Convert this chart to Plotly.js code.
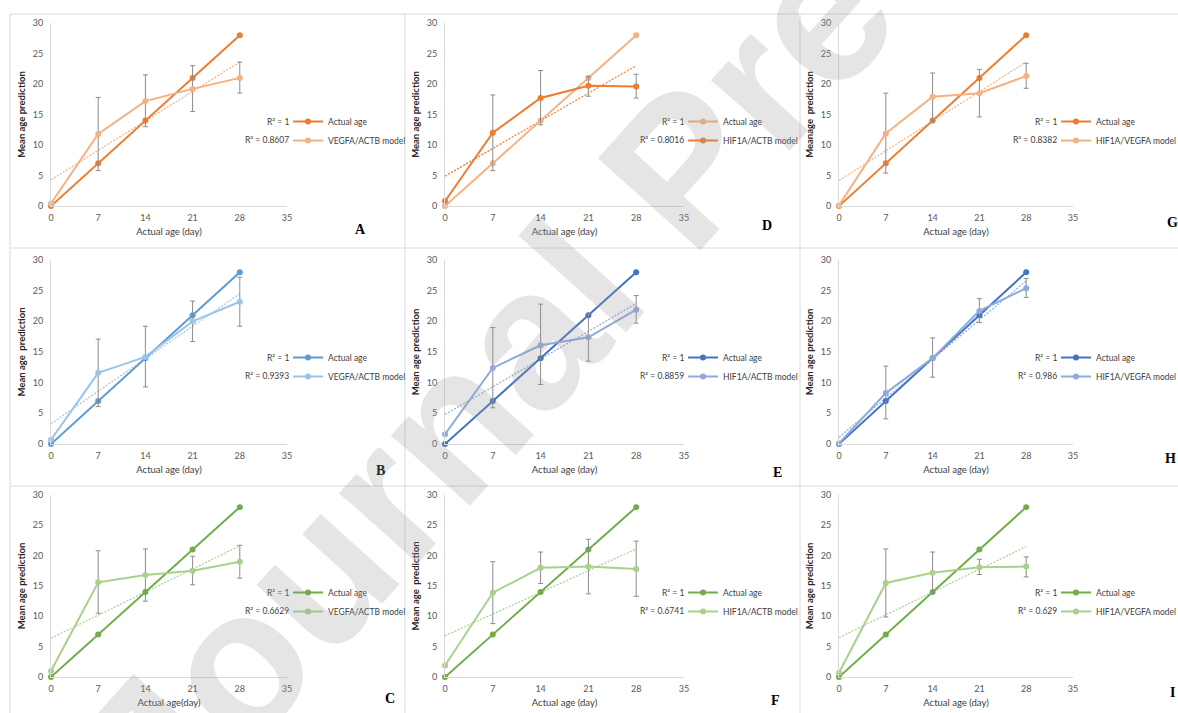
<!DOCTYPE html>
<html><head><meta charset="utf-8">
<script src="https://cdn.plot.ly/plotly-3.0.1.min.js"></script>
<style>html,body{margin:0;padding:0;background:#fff}#chart{width:1178px;height:713px}</style>
</head><body><div id="chart"></div>
<script>
// ---------- data ----------
const days = [0, 7, 14, 21, 28];
const actualAge = [0, 7, 14, 21, 28];
const xTickVals = [0, 7, 14, 21, 28, 35];
const yTickVals = [0, 5, 10, 15, 20, 25, 30];
const trendX = [0, 28];

// panels in grid order: A D G / B E H / C F I
const panelLetters = ['A', 'D', 'G', 'B', 'E', 'H', 'C', 'F', 'I'];
const modelNames = ['VEGFA/ACTB model', 'HIF1A/ACTB model', 'HIF1A/VEGFA model',
                    'VEGFA/ACTB model', 'HIF1A/ACTB model', 'HIF1A/VEGFA model',
                    'VEGFA/ACTB model', 'HIF1A/ACTB model', 'HIF1A/VEGFA model'];
const actualName = 'Actual age';
const r2Actual = 'R² = 1';
const r2Model = ['R² = 0.8607', 'R² = 0.8016', 'R² = 0.8382',
                 'R² = 0.9393', 'R² = 0.8859', 'R² = 0.986',
                 'R² = 0.6629', 'R² = 0.6741', 'R² = 0.629'];
const xTitles = ['Actual age (day)', 'Actual age (day)', 'Actual age (day)',
                 'Actual age (day)', 'Actual age (day)', 'Actual age (day)',
                 'Actual age(day)', 'Actual age (day)', 'Actual age (day)'];
const yTitles = ['Mean age prediction', 'Mean age prediction', 'Meanage  prediction',
                 'Mean age  prediction', 'Mean age prediction', 'Mean age prediction',
                 'Mean age prediction', 'Mean age  prediction', 'Mean age prediction'];
const watermarkText = 'Journal Pre-proof';

// model predictions (mean) per panel
const predA = [0.4, 11.8, 17.2, 19.2, 21.0];
const predD = [0.8, 12.0, 17.7, 19.7, 19.6];
const predG = [0.1, 11.9, 17.9, 18.5, 21.3];
const predB = [0.7, 11.6, 14.2, 20.0, 23.2];
const predE = [1.6, 12.4, 16.1, 17.4, 21.9];
const predH = [0.1, 8.3, 14.0, 21.7, 25.4];
const predC = [1.0, 15.6, 16.8, 17.5, 19.0];
const predF = [1.9, 13.9, 18.0, 18.2, 17.8];
const predI = [0.7, 15.5, 17.2, 18.1, 18.2];

// error bar upper / lower ends
const hiA = [0.4, 17.8, 21.5, 23.0, 23.6], loA = [0.4, 5.8, 13.0, 15.5, 18.5];
const hiD = [0.8, 18.2, 22.2, 21.2, 21.6], loD = [0.8, 5.8, 13.3, 18.0, 17.7];
const hiG = [0.1, 18.5, 21.8, 22.4, 23.4], loG = [0.1, 5.4, 14.0, 14.6, 19.3];
const hiB = [0.7, 17.1, 19.2, 23.3, 27.2], loB = [0.7, 6.1, 9.3, 16.7, 19.2];
const hiE = [1.6, 19.0, 22.8, 21.3, 24.2], loE = [1.6, 5.9, 9.7, 13.5, 19.7];
const hiH = [0.1, 12.7, 17.3, 23.7, 27.0], loH = [0.1, 4.1, 10.9, 19.8, 23.9];
const hiC = [1.0, 20.8, 21.1, 19.9, 21.7], loC = [1.0, 10.5, 12.5, 15.2, 16.3];
const hiF = [1.9, 19.0, 20.6, 22.7, 22.4], loF = [1.9, 8.8, 15.4, 13.7, 13.3];
const hiI = [0.7, 21.1, 20.6, 19.4, 19.8], loI = [0.7, 9.9, 13.9, 16.9, 16.5];

// linear trendline of the model series (values at day 0 and day 28)
const trendA = [4.3, 23.6];
const trendD = [4.9, 23.0];
const trendG = [4.2, 23.6];
const trendB = [3.3, 24.5];
const trendE = [4.8, 22.9];
const trendH = [1.1, 26.6];
const trendC = [6.4, 21.6];
const trendF = [6.8, 21.1];
const trendI = [6.5, 21.5];

const preds = [predA, predD, predG, predB, predE, predH, predC, predF, predI];
const his = [hiA, hiD, hiG, hiB, hiE, hiH, hiC, hiF, hiI];
const los = [loA, loD, loG, loB, loE, loH, loC, loF, loI];
const trends = [trendA, trendD, trendG, trendB, trendE, trendH, trendC, trendF, trendI];

// ---------- styling / layout ----------
const W = 1178, H = 713;
const FONT = 'Lato, "Liberation Sans", sans-serif';
const colors = [
  {act: '#ED7D31', mod: '#F4B183'}, {act: '#F4B183', mod: '#ED7D31'}, {act: '#ED7D31', mod: '#F4B183'},
  {act: '#5B9BD5', mod: '#9DC3E6'}, {act: '#4472C4', mod: '#8FAADC'}, {act: '#4472C4', mod: '#8FAADC'},
  {act: '#70AD47', mod: '#A9D18E'}, {act: '#70AD47', mod: '#A9D18E'}, {act: '#70AD47', mod: '#A9D18E'}
];
// pixel geometry of the plot areas
const colX = [[51, 287], [445, 684], [839, 1073]];
const rowY = [[23, 206], [260, 444], [495, 677]];
const legX = [288, 683, 1056];          // legend left
const legY = [131, 367, 602];           // legend middle
const r2X = [291, 686, 1059];           // right edge of R² labels
const letterPos = [[360, 230], [767, 225], [1172, 223], [380, 470], [777, 472], [1170, 458], [390, 698], [775, 700], [1172, 692]];

const px = v => v / W, py = v => 1 - v / H;

const data = [];
const layout = {
  width: W, height: H,
  margin: {l: 0, r: 0, t: 0, b: 0, autoexpand: false},
  paper_bgcolor: '#ffffff', plot_bgcolor: 'rgba(0,0,0,0)',
  font: {family: FONT, color: '#404040', size: 9},
  showlegend: true,
  annotations: [], shapes: []
};

for (let i = 0; i < 9; i++) {
  const s = i === 0 ? '' : String(i + 1);
  const r = Math.floor(i / 3), c = i % 3;
  const xa = 'x' + s, ya = 'y' + s, lg = 'legend' + s;
  const col = colors[i];

  // trendline (dotted)
  data.push({
    type: 'scatter', mode: 'lines', x: trendX, y: trends[i], xaxis: xa, yaxis: ya,
    line: {color: col.mod, width: 1.2, dash: '2px,1.5px'}, showlegend: false, hoverinfo: 'skip'
  });
  // actual age
  data.push({
    type: 'scatter', mode: 'lines+markers', name: actualName, x: days, y: actualAge,
    xaxis: xa, yaxis: ya, legend: lg, cliponaxis: false,
    line: {color: col.act, width: 2}, marker: {color: col.act, size: 6}
  });
  // model
  const pr = preds[i];
  data.push({
    type: 'scatter', mode: 'lines+markers', name: modelNames[i], x: days, y: pr,
    xaxis: xa, yaxis: ya, legend: lg, cliponaxis: false,
    line: {color: col.mod, width: 2}, marker: {color: col.mod, size: 6},
    error_y: {
      type: 'data', symmetric: false,
      array: his[i].map((h, k) => h - pr[k]),
      arrayminus: los[i].map((l, k) => pr[k] - l),
      color: '#8c8c8c', thickness: 1, width: 2.5
    }
  });

  layout['xaxis' + s] = {
    domain: [px(colX[c][0]), px(colX[c][1])], range: [0, 35], anchor: ya,
    tickmode: 'array', tickvals: xTickVals, ticks: '', ticklabelstandoff: 3,
    showline: true, linecolor: '#d9d9d9', linewidth: 1, showgrid: false, zeroline: false,
    tickfont: {size: 9, color: '#595959', family: FONT}, fixedrange: true,
    title: {text: xTitles[i], font: {size: 9.5, color: '#404040', family: FONT}, standoff: 6}
  };
  layout['yaxis' + s] = {
    domain: [py(rowY[r][1]), py(rowY[r][0])], range: [0, 30], anchor: xa,
    tickmode: 'array', tickvals: yTickVals, ticks: '', ticklabelstandoff: 5,
    showline: true, linecolor: '#d9d9d9', linewidth: 1, showgrid: false, zeroline: false,
    tickfont: {size: 9, color: '#595959', family: FONT}, fixedrange: true,
    title: {text: '<b>' + yTitles[i] + '</b>', font: {size: 9.5, color: '#262626', family: FONT}, standoff: 5}
  };
  layout[lg] = {
    x: px(legX[c]), y: py(legY[r]), xanchor: 'left', yanchor: 'middle',
    bgcolor: 'rgba(0,0,0,0)', borderwidth: 0, itemwidth: 30, tracegroupgap: 0,
    font: {size: 8.5, color: '#404040', family: FONT}
  };
  layout.annotations.push(
    {xref: 'paper', yref: 'paper', x: px(r2X[c]), y: py(legY[r] - 9), xanchor: 'right', yanchor: 'middle',
     text: r2Actual, showarrow: false, font: {size: 8.5, color: '#404040', family: FONT}},
    {xref: 'paper', yref: 'paper', x: px(r2X[c]), y: py(legY[r] + 9), xanchor: 'right', yanchor: 'middle',
     text: r2Model[i], showarrow: false, font: {size: 8.5, color: '#404040', family: FONT}},
    {xref: 'paper', yref: 'paper', x: px(letterPos[i][0]), y: py(letterPos[i][1]), xanchor: 'center', yanchor: 'middle',
     text: '<b>' + panelLetters[i] + '</b>', showarrow: false,
     font: {size: 14, color: '#000000', family: '"Liberation Serif", "DejaVu Serif", serif'}}
  );
}

// watermark
layout.annotations.push({
  xref: 'paper', yref: 'paper', x: px(680), y: py(168), xanchor: 'center', yanchor: 'middle',
  text: '<b>' + watermarkText + '</b>', showarrow: false, textangle: -48,
  font: {size: 200, color: 'rgba(150,150,150,0.25)', family: '"Liberation Sans", Arial, sans-serif'}
});

// panel frame lines
const frameColor = '#d9d9d9';
[14, 248, 486].forEach(y => layout.shapes.push({type: 'line', xref: 'paper', yref: 'paper',
  x0: px(10), x1: 1, y0: py(y), y1: py(y), line: {color: frameColor, width: 1}}));
[10, 405, 800].forEach(x => layout.shapes.push({type: 'line', xref: 'paper', yref: 'paper',
  x0: px(x), x1: px(x), y0: py(14), y1: 0, line: {color: frameColor, width: 1}}));

Plotly.newPlot('chart', data, layout, {displayModeBar: false, staticPlot: true});
</script>
</body></html>
